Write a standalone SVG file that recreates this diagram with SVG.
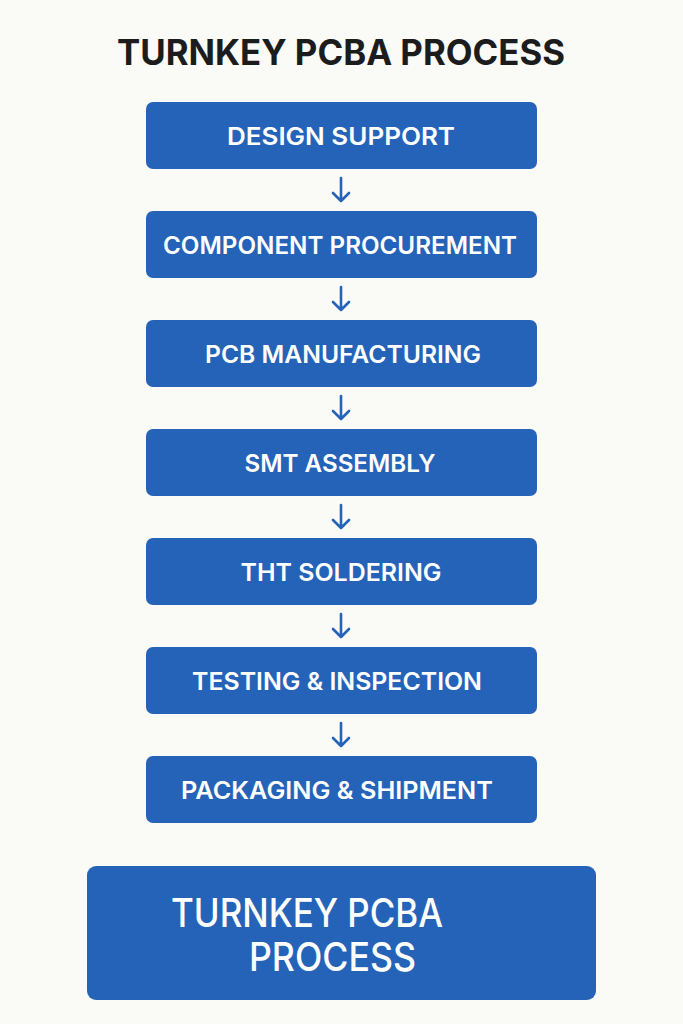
<svg xmlns="http://www.w3.org/2000/svg" width="683" height="1024" viewBox="0 0 683 1024">
<defs>
<style>
.bg{fill:#fafaf7}
.box{fill:#2563b8}
.lbl{font-family:Inter,"Noto Sans","Liberation Sans",sans-serif;font-weight:600;font-size:24px;fill:#ffffff;text-anchor:middle}
.title{font-family:Inter,"Noto Sans","Liberation Sans",sans-serif;font-weight:700;font-size:35px;fill:#1c1c1c;text-anchor:middle}
.big{font-family:Inter,"Noto Sans","Liberation Sans",sans-serif;font-weight:500;font-size:39px;fill:#ffffff}
.arr{stroke:#2563b8;stroke-width:2.6;fill:none;stroke-linecap:round;stroke-linejoin:round}
</style>
</defs>
<rect class="bg" x="0" y="0" width="683" height="1024"/>
<text class="title" x="341" y="65" textLength="448" lengthAdjust="spacingAndGlyphs">TURNKEY PCBA PROCESS</text>
<g id="connectors">
<path class="arr" d="M341 178V201M333 193L341 201L349 193"/>
<path class="arr" d="M341 287V310M333 302L341 310L349 302"/>
<path class="arr" d="M341 396V419M333 411L341 419L349 411"/>
<path class="arr" d="M341 505V528M333 520L341 528L349 520"/>
<path class="arr" d="M341 614V637M333 629L341 637L349 629"/>
<path class="arr" d="M341 723V746M333 738L341 746L349 738"/>
</g>
<g id="n1"><rect class="box" x="146" y="102" width="391" height="67" rx="7"/><text class="lbl" x="341" y="145" textLength="228" lengthAdjust="spacingAndGlyphs">DESIGN SUPPORT</text></g>
<g id="n2"><rect class="box" x="146" y="211" width="391" height="67" rx="7"/><text class="lbl" x="340" y="254" textLength="354" lengthAdjust="spacingAndGlyphs">COMPONENT PROCUREMENT</text></g>
<g id="n3"><rect class="box" x="146" y="320" width="391" height="67" rx="7"/><text class="lbl" x="343" y="363" textLength="276" lengthAdjust="spacingAndGlyphs">PCB MANUFACTURING</text></g>
<g id="n4"><rect class="box" x="146" y="429" width="391" height="67" rx="7"/><text class="lbl" x="340" y="472" textLength="191" lengthAdjust="spacingAndGlyphs">SMT ASSEMBLY</text></g>
<g id="n5"><rect class="box" x="146" y="538" width="391" height="67" rx="7"/><text class="lbl" x="341" y="581" textLength="201" lengthAdjust="spacingAndGlyphs">THT SOLDERING</text></g>
<g id="n6"><rect class="box" x="146" y="647" width="391" height="67" rx="7"/><text class="lbl" x="337" y="690" textLength="290" lengthAdjust="spacingAndGlyphs">TESTING &amp; INSPECTION</text></g>
<g id="n7"><rect class="box" x="146" y="756" width="391" height="67" rx="7"/><text class="lbl" x="337" y="799" textLength="312" lengthAdjust="spacingAndGlyphs">PACKAGING &amp; SHIPMENT</text></g>
<g id="n8"><rect class="box" x="87" y="866" width="509" height="134" rx="9"/>
<text class="big" x="171" y="927" textLength="272" lengthAdjust="spacingAndGlyphs">TURNKEY PCBA</text>
<text class="big" x="249" y="971" textLength="167" lengthAdjust="spacingAndGlyphs">PROCESS</text></g>
</svg>
